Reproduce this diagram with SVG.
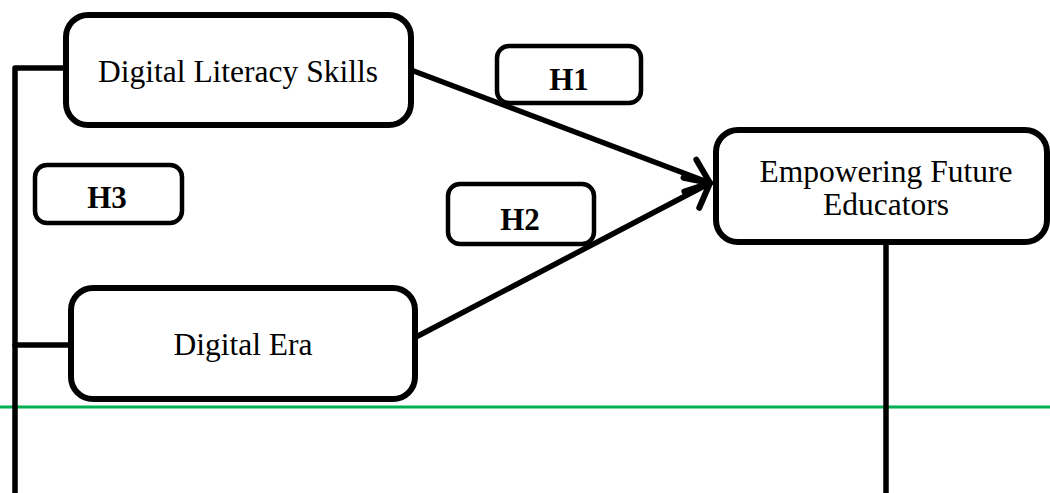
<svg xmlns="http://www.w3.org/2000/svg" width="1050" height="493" viewBox="0 0 1050 493">
<style>
.box{fill:#fff;stroke:#000;stroke-width:6}
.hbox{fill:#fff;stroke:#000;stroke-width:4.5}
.t{font-family:"Liberation Serif","Times New Roman",serif;font-size:31.5px;fill:#000;text-anchor:middle}
.h{font-family:"Liberation Serif","Times New Roman",serif;font-size:31px;font-weight:bold;fill:#000;text-anchor:middle}
.ln{fill:none;stroke:#000;stroke-width:5.5;stroke-linecap:round;stroke-linejoin:round}
</style>
<defs>
<marker id="arr" markerUnits="userSpaceOnUse" markerWidth="44" markerHeight="44" viewBox="-32 -22 44 44" refX="0" refY="0" orient="auto">
<path d="M-21,-17 L0,0 L-21,17" fill="none" stroke="#000" stroke-width="6" stroke-linecap="round" stroke-linejoin="round"/>
</marker>
</defs>
<rect width="1050" height="493" fill="#fff"/>
<line x1="0" y1="407" x2="1050" y2="407" stroke="#00B050" stroke-width="3"/>
<g id="connectors">
<polyline class="ln" points="64,68 15,68 15,495"/>
<line class="ln" x1="15" y1="345" x2="71" y2="345"/>
<line class="ln" x1="886" y1="242" x2="886" y2="495"/>
<line class="ln" x1="411" y1="70" x2="710" y2="183" marker-end="url(#arr)"/>
<line class="ln" x1="416" y1="337" x2="710" y2="183" marker-end="url(#arr)"/>
</g>
<g id="digital-literacy">
<rect class="box" x="66" y="15" width="345" height="110" rx="22"/>
<text class="t" x="238" y="82">Digital Literacy Skills</text>
</g>
<g id="digital-era">
<rect class="box" x="71" y="288" width="344" height="111" rx="22"/>
<text class="t" x="243" y="355">Digital Era</text>
</g>
<g id="empowering">
<rect class="box" x="716" y="130" width="331" height="112" rx="22"/>
<text class="t" x="886" y="182">Empowering Future</text>
<text class="t" x="886" y="215">Educators</text>
</g>
<g id="h1">
<rect class="hbox" x="497" y="46" width="144" height="57" rx="12"/>
<text class="h" x="569" y="90">H1</text>
</g>
<g id="h2">
<rect class="hbox" x="448" y="184" width="146" height="60" rx="12"/>
<text class="h" x="520" y="230">H2</text>
</g>
<g id="h3">
<rect class="hbox" x="35" y="165" width="147" height="58" rx="12"/>
<text class="h" x="107" y="208">H3</text>
</g>
</svg>
